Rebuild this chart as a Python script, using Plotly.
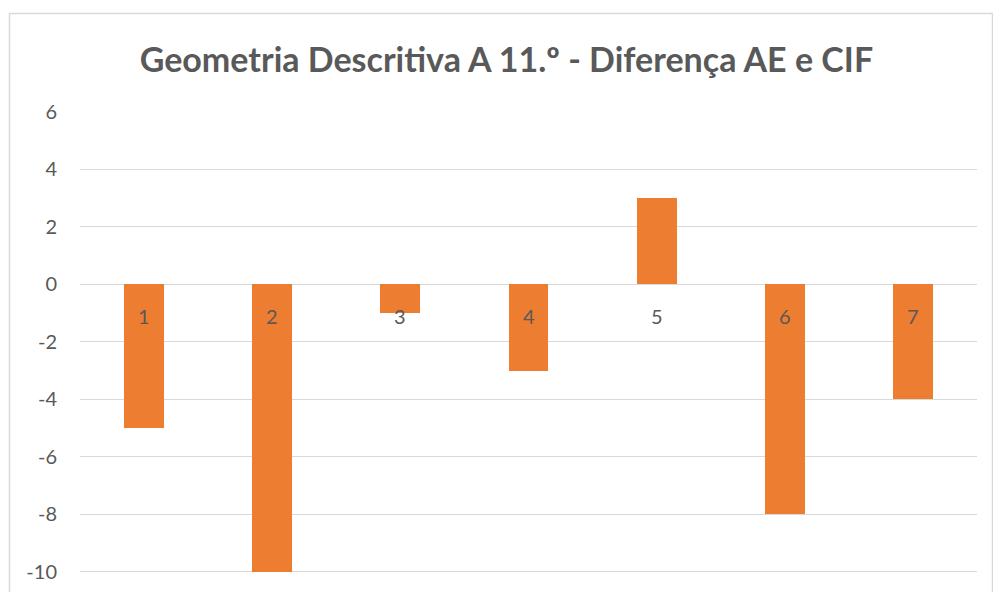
import plotly.graph_objects as go

categories = ["1", "2", "3", "4", "5", "6", "7"]
values = [-5, -10, -1, -3, 3, -8, -4]
tick_values = [-10, -8, -6, -4, -2, 0, 2, 4, 6]
title_text = "Geometria Descritiva A 11.º - Diferença AE e CIF"

W, H = 993, 592
FONT = "Lato, 'Open Sans', sans-serif"
GRAY = "#595959"

fig = go.Figure()
fig.add_trace(go.Bar(
    x=categories, y=values,
    marker=dict(color="#ED7D31", line=dict(width=0)),
    width=0.312,
    hoverinfo="x+y",
))

for i, c in enumerate(categories):
    fig.add_annotation(
        x=i, y=0, xref="x", yref="y",
        text=c, showarrow=False,
        yanchor="middle", yshift=-32,
        font=dict(family=FONT, size=20, color=GRAY),
    )

fig.update_layout(
    width=W, height=H,
    margin=dict(l=80, r=16, t=112, b=0),
    paper_bgcolor="white", plot_bgcolor="white",
    showlegend=False,
    bargap=0,
    title=dict(
        text="<b>" + title_text + "</b>",
        x=0.51, xanchor="center",
        y=1 - 60 / H, yanchor="middle", yref="container",
        font=dict(family=FONT, size=34, color=GRAY),
    ),
    xaxis=dict(
        type="category",
        range=[-0.5, len(categories) - 0.5],
        showticklabels=False, showgrid=False, zeroline=False,
        showline=False, ticks="",
    ),
    yaxis=dict(
        range=[-10.7, 6.0],
        tickvals=tick_values,
        ticktext=[str(v) for v in tick_values],
        showgrid=True, gridcolor="#D9D9D9", gridwidth=1,
        zeroline=True, zerolinecolor="#D9D9D9", zerolinewidth=1,
        showline=False, ticks="",
        ticklabelstandoff=22,
        tickfont=dict(family=FONT, size=20, color=GRAY),
    ),
    shapes=[dict(
        type="rect", xref="paper", yref="paper",
        x0=(9.5 - 80) / (W - 96), x1=(992.5 - 80) / (W - 96),
        y0=-0.2, y1=1 + (112 - 13.5) / 480,
        line=dict(color="#D9D9D9", width=1.5), fillcolor="rgba(0,0,0,0)",
        layer="below",
    )],
)

fig.write_html("out.html")
